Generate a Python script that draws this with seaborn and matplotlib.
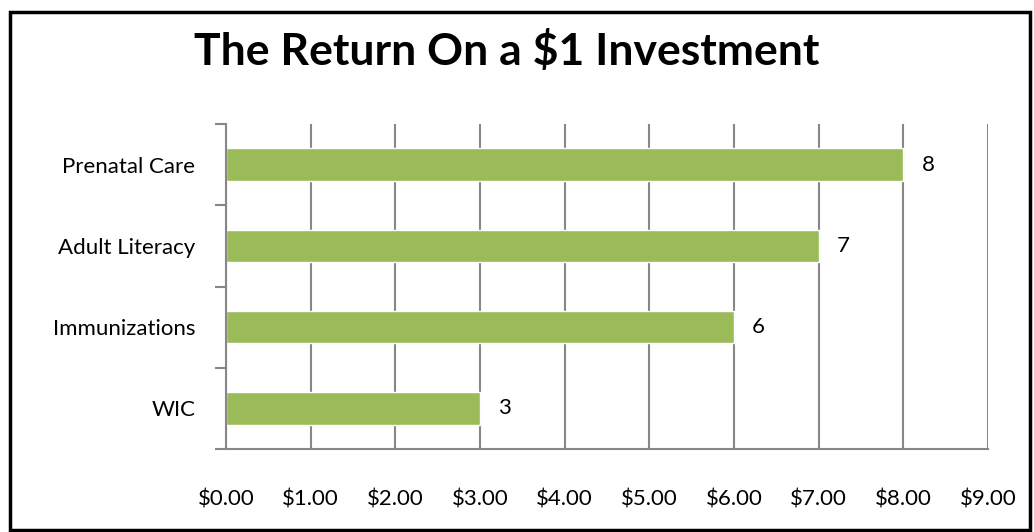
import numpy as np
import pandas as pd
import matplotlib
matplotlib.use('Agg')
import matplotlib.pyplot as plt
import seaborn as sns
from matplotlib.patches import Rectangle
from matplotlib.ticker import FixedLocator

# 数据
programs = ['Prenatal Care', 'Adult Literacy', 'Immunizations', 'WIC']
returns = [8, 7, 6, 3]
xticks = np.arange(0, 10, 1)
xtick_labels = ['$%.2f' % v for v in xticks]

df = pd.DataFrame({'program': programs, 'value': returns})

sns.set_style('white')
plt.rcParams['font.family'] = ['Lato', 'DejaVu Sans']
plt.rcParams['text.color'] = 'black'
plt.rcParams['xtick.color'] = 'black'
plt.rcParams['ytick.color'] = 'black'

grid_col = '#878787'
fs = 16

fig = plt.figure(figsize=(10.34, 5.32), dpi=100)
ax = fig.add_axes([226 / 1034, 1 - 449 / 532, (988 - 226) / 1034, (449 - 124) / 532])

sns.barplot(data=df, x='value', y='program', orient='h', color='#9BBB59',
            saturation=1, width=0.4, ax=ax)

ax.set_xlim(0, 9)
ax.set_ylim(3.5, -0.5)
ax.set_xticks(xticks)
ax.set_xticklabels(xtick_labels, fontsize=fs)
ax.set_xlabel('')
ax.set_ylabel('')
ax.tick_params(axis='x', length=7, width=1.5, color=grid_col, labelcolor='black', pad=22)
ax.tick_params(axis='y', which='major', length=0, pad=22, labelsize=fs, labelcolor='black')
ax.yaxis.set_minor_locator(FixedLocator([-0.5, 0.5, 1.5, 2.5, 3.5]))
ax.tick_params(axis='y', which='minor', length=8, width=1.5, color=grid_col, left=True)
ax.xaxis.grid(True, color=grid_col, linewidth=1.5)
ax.yaxis.grid(False)
ax.set_axisbelow(True)

for side in ['top', 'right']:
    ax.spines[side].set_visible(False)
for side in ['left', 'bottom']:
    ax.spines[side].set_color(grid_col)
    ax.spines[side].set_linewidth(1.5)

ax.bar_label(ax.containers[0], labels=[str(v) for v in returns], padding=13, fontsize=fs, color='black')

fig.text(507 / 1034, 1 - 51 / 532, 'The Return On a $1 Investment', ha='center', va='center',
         fontsize=32, fontweight='bold', color='black')

# 外边框
fig.patches.append(Rectangle((10 / 1034, 2 / 532), 1020 / 1034, 518 / 532, transform=fig.transFigure,
                             fill=False, edgecolor='black', linewidth=2.5))

fig.savefig('out.png', dpi=100)
